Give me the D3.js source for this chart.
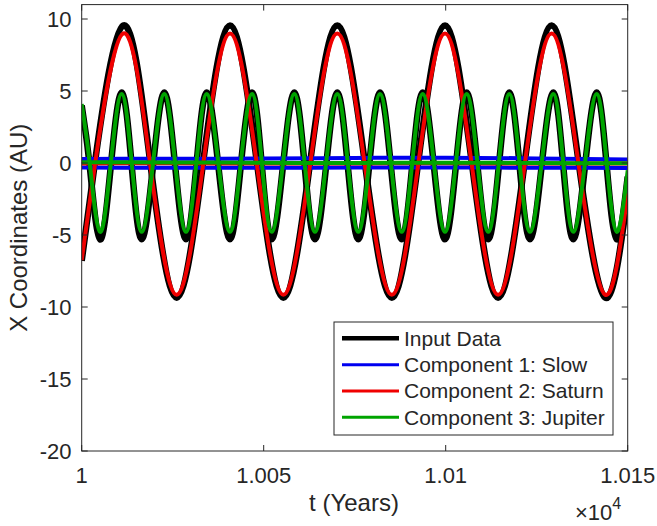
<!DOCTYPE html>
<html>
<head>
<meta charset="utf-8">
<script src="https://cdn.jsdelivr.net/npm/d3@7"></script>
<style>
  body { margin: 0; background: #fff; }
  text { font-family: "Liberation Sans", Arial, Helvetica, sans-serif; fill: #262626; }
</style>
</head>
<body>
<svg id="chart" width="657" height="526"></svg>
<script>
// tick values / labels
var xTicks = [10000, 10050, 10100, 10150],
    xTickLabels = ["1", "1.005", "1.01", "1.015"],
    yTicks = [-20, -15, -10, -5, 0, 5, 10];

// Jupiter-period key points (years): start, crossings, troughs, peaks, end
var jupT = [10000, 10002.2, 10005.03, 10008.0, 10010.99, 10013.74, 10016.48, 10019.6, 10022.69, 10025.67,
    10028.65, 10031.5, 10034.34, 10037.54, 10040.74, 10043.7, 10046.8, 10049.5, 10052.2, 10055.3,
    10058.41, 10061.25, 10064.09, 10067.15, 10070.22, 10073.1, 10075.99, 10078.97, 10081.95, 10084.93,
    10087.91, 10090.8, 10093.68, 10096.75, 10099.81, 10102.8, 10105.77, 10108.73, 10111.7, 10114.6,
    10117.47, 10120.3, 10123.16, 10126.36, 10129.56, 10132.3, 10135.05, 10138.27, 10141.48, 10144.23,
    10146.98, 10150];
var jupiterX = [4.1, 0, -4.78, 0, 4.8, 0, -4.78, 0, 4.8, 0,
    -4.78, 0, 4.8, 0, -4.78, 0, 4.8, 0, -4.78, 0,
    4.8, 0, -4.78, 0, 4.8, 0, -4.78, 0, 4.8, 0,
    -4.78, 0, 4.8, 0, -4.78, 0, 4.8, 0, -4.78, 0,
    4.8, 0, -4.78, 0, 4.8, 0, -4.78, 0, 4.8, 0,
    -4.78, -0.5];
var inputJupX = [4.0, -0.2, -5.3, -0.2, 4.9, -0.2, -5.3, -0.2, 4.9, -0.2,
    -5.3, -0.2, 4.9, -0.2, -5.3, -0.2, 4.9, -0.2, -5.3, -0.2,
    4.9, -0.2, -5.3, -0.2, 4.9, -0.2, -5.3, -0.2, 4.9, -0.2,
    -5.3, -0.2, 4.9, -0.2, -5.3, -0.2, 4.9, -0.2, -5.3, -0.2,
    4.9, -0.2, -5.3, -0.2, 4.9, -0.2, -5.3, -0.2, 4.9, -0.2,
    -5.3, -0.95];

// Saturn-period key points
var satT = [10000, 10003.7, 10011.43, 10018.77, 10026.1, 10033.42, 10040.74, 10048.07, 10055.4, 10062.81,
    10070.22, 10077.71, 10085.2, 10092.5, 10099.81, 10107.1, 10114.4, 10121.76, 10129.12, 10136.46,
    10143.8, 10150];
var saturnX = [-6.74, 0, 9.0, 0, -9.15, 0, 9.0, 0, -9.15, 0,
    9.0, 0, -9.15, 0, 9.0, 0, -9.15, 0, 9.0, 0,
    -9.15, -2.1];
var inputSatX = [-6.8, 0.15, 9.55, 0.15, -9.35, 0.15, 9.55, 0.15, -9.35, 0.15,
    9.55, 0.15, -9.35, 0.15, 9.55, 0.15, -9.35, 0.15, 9.55, 0.15,
    -9.35, -2.2];

// near-zero columns
var slowT = [10000, 10025, 10050, 10075, 10100, 10125, 10150];
var slowA = [0.28, 0.3, 0.31, 0.35, 0.37, 0.32, 0.25],
    slowB = [-0.32, -0.33, -0.33, -0.32, -0.31, -0.33, -0.34],
    saturnSmall = [-0.03, -0.02, -0.04, -0.03, -0.02, -0.04, -0.03],
    jupiterSmall = [0.05, 0.04, 0.02, 0.0, 0.02, 0.0, -0.02];

var legendNames = ["Input Data", "Component 1: Slow", "Component 2: Saturn", "Component 3: Jupiter"],
    legendColors = ["#000000", "#0000f0", "#f00000", "#00a400"];

function zipPts(ts, vs) {
    return ts.map(function (t, i) { return [t, vs[i]]; });
}

var svg = d3.select("#chart");
var pLeft = 81.7, pRight = 627.7, pTop = 4.6, pBottom = 451;

var x = d3.scaleLinear().domain([10000, 10150]).range([pLeft, pRight]);
var y = d3.scaleLinear().domain([-20, 11]).range([pBottom, pTop]);

svg.append("clipPath").attr("id", "clip")
    .append("rect").attr("x", pLeft).attr("y", pTop)
    .attr("width", pRight - pLeft).attr("height", pBottom - pTop);

var line = d3.line()
    .x(function (d) { return x(d[0]); })
    .y(function (d) { return y(d[1]); })
    .curve(d3.curveNatural);

var series = [
    {pts: zipPts(satT, inputSatX), color: legendColors[0], w: 6.5},
    {pts: zipPts(jupT, inputJupX), color: legendColors[0], w: 6.5},
    {pts: zipPts(slowT, slowA), color: legendColors[1], w: 4},
    {pts: zipPts(slowT, slowB), color: legendColors[1], w: 4},
    {pts: zipPts(satT, saturnX), color: legendColors[2], w: 4},
    {pts: zipPts(slowT, saturnSmall), color: legendColors[2], w: 4},
    {pts: zipPts(jupT, jupiterX), color: legendColors[3], w: 4},
    {pts: zipPts(slowT, jupiterSmall), color: legendColors[3], w: 4}
];

var plot = svg.append("g").attr("clip-path", "url(#clip)");
plot.selectAll("path").data(series).enter().append("path")
    .attr("d", function (d) { return line(d.pts); })
    .attr("fill", "none")
    .attr("stroke", function (d) { return d.color; })
    .attr("stroke-width", function (d) { return d.w; })
    .attr("stroke-linejoin", "round");

// axes box
var ax = svg.append("g");
ax.append("rect").attr("x", pLeft).attr("y", pTop)
    .attr("width", pRight - pLeft).attr("height", pBottom - pTop)
    .attr("fill", "none").attr("stroke", "#262626").attr("stroke-width", 1);

var tl = 6;
xTicks.forEach(function (t, i) {
    ax.append("line").attr("x1", x(t)).attr("x2", x(t)).attr("y1", pBottom).attr("y2", pBottom - tl)
        .attr("stroke", "#262626");
    ax.append("line").attr("x1", x(t)).attr("x2", x(t)).attr("y1", pTop).attr("y2", pTop + tl)
        .attr("stroke", "#262626");
    ax.append("text").attr("x", x(t)).attr("y", 482.5)
        .attr("text-anchor", "middle").style("font-size", "22px")
        .text(xTickLabels[i]);
});
yTicks.forEach(function (v) {
    ax.append("line").attr("x1", pLeft).attr("x2", pLeft + tl).attr("y1", y(v)).attr("y2", y(v))
        .attr("stroke", "#262626");
    ax.append("line").attr("x1", pRight).attr("x2", pRight - tl).attr("y1", y(v)).attr("y2", y(v))
        .attr("stroke", "#262626");
    ax.append("text").attr("x", 71.5).attr("y", y(v) + 7.9)
        .attr("text-anchor", "end").style("font-size", "22px")
        .text(v);
});

// axis titles
svg.append("text").attr("x", 354).attr("y", 511)
    .attr("text-anchor", "middle").style("font-size", "24px")
    .text("t (Years)");
svg.append("text")
    .attr("transform", "translate(27," + ((pTop + pBottom) / 2) + ") rotate(-90)")
    .attr("text-anchor", "middle").style("font-size", "24px")
    .text("X Coordinates (AU)");

var mult = svg.append("text").attr("x", 575).attr("y", 520).style("font-size", "22px");
mult.append("tspan").text("\u00d710");
mult.append("tspan").attr("dy", -11).style("font-size", "16px").text("4");

// legend
var lg = svg.append("g");
lg.append("rect").attr("x", 334).attr("y", 322).attr("width", 279).attr("height", 113)
    .attr("fill", "#fff").attr("stroke", "#262626").attr("stroke-width", 1);
var rowY = d3.scaleLinear().domain([0, 3]).range([338.3, 417.3]);
legendNames.forEach(function (name, i) {
    lg.append("line").attr("x1", 342).attr("x2", 399)
        .attr("y1", rowY(i)).attr("y2", rowY(i))
        .attr("stroke", legendColors[i]).attr("stroke-width", i === 0 ? 4.5 : 3);
    lg.append("text").attr("x", 404).attr("y", rowY(i) + 7.5)
        .style("font-size", "21px").text(name);
});
</script>
</body>
</html>
